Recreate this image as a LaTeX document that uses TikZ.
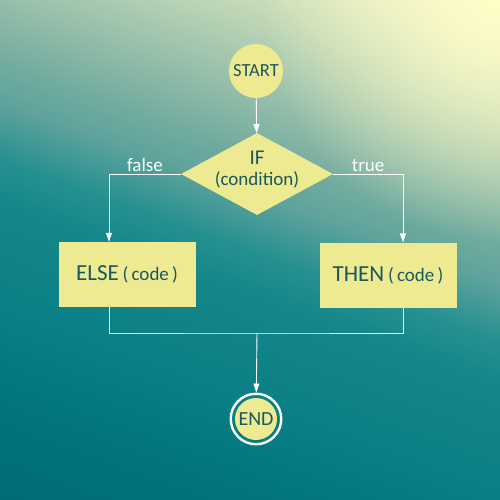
\documentclass[tikz,border=0pt]{standalone}
\usepackage{fontspec}
\setmainfont{Carlito}
\usetikzlibrary{arrows.meta,shapes.geometric,fadings,calc}
\definecolor{fillY}{RGB}{237,234,145}
\definecolor{txt}{RGB}{26,88,95}
\definecolor{glow}{RGB}{255,253,200}
\definecolor{bgA}{RGB}{0,106,116}
\definecolor{bgB}{RGB}{0,115,124}
\definecolor{bgC}{RGB}{10,127,133}
\definecolor{bgD}{RGB}{20,135,138}
\definecolor{bgE}{RGB}{38,144,144}
\definecolor{bgF}{RGB}{95,163,156}
\definecolor{bgG}{RGB}{112,171,159}
\definecolor{bgH}{RGB}{150,190,170}
\definecolor{bgI}{RGB}{200,220,185}
\definecolor{bgJ}{RGB}{245,245,200}
\definecolor{bgK}{RGB}{250,248,202}
\pgfdeclareverticalshading{bgsh}{100bp}{%
  color(0bp)=(bgA); color(25bp)=(bgA); color(32.5bp)=(bgB); color(39.5bp)=(bgC);
  color(47bp)=(bgD); color(50bp)=(bgE); color(54bp)=(bgF); color(56.5bp)=(bgG);
  color(61bp)=(bgH); color(67.5bp)=(bgI); color(73.5bp)=(bgJ); color(75bp)=(bgK);
  color(100bp)=(bgK)}
\tikzfading[name=glowfade, inner color=transparent!0, outer color=transparent!100]
\begin{document}
\begin{tikzpicture}[x=1pt,y=-1pt,
  conn/.style={draw=white, line width=0.9pt},
  arr/.style={conn,-{Triangle[width=6pt,length=9pt]}},
  term/.style={circle, fill=fillY, text=txt, minimum size=54pt, inner sep=0pt, font=\fontsize{18.5}{20}\selectfont},
  box/.style={rectangle, fill=fillY, text=txt, minimum width=137pt, minimum height=65pt, inner sep=0pt, font=\fontsize{23}{25}\selectfont},
  condshape/.style={diamond, fill=fillY, minimum width=152pt, minimum height=82pt, inner sep=0pt},
  lbl/.style={text=white, font=\fontsize{19}{20}\selectfont, inner sep=1.5pt},
  iftxt/.style={text=txt, inner sep=0pt}
]
\useasboundingbox (0,0) rectangle (500,500);
\begin{scope}
  \clip (0,0) rectangle (500,500);
  \begin{scope}[transform canvas={rotate around={-20:(250,250)}}]
    \shade[shading=bgsh] (-300,-90) rectangle (800,590);
  \end{scope}
  \fill[glow, path fading=glowfade] (500,0) circle (240);
\end{scope}

\node[term] (start) at (256,71) {START};
\node[condshape] (if) at (257,174) {};
\node[iftxt, font=\fontsize{21}{22}\selectfont] (iftext) at (257,158) {IF};
\node[iftxt, font=\fontsize{19}{20}\selectfont] (condtext) at (257,180) {(condition)};
\node[box] (else) at (127,274.5) {ELSE\,{\fontsize{19}{20}\selectfont(\,code\,)}};
\node[box] (then) at (388,275) {THEN\,{\fontsize{19}{20}\selectfont(\,code\,)}};
\node[term, minimum size=42pt, font=\fontsize{20}{22}\selectfont] (end) at (256,419) {END};
\node[circle, draw=white, line width=2.4pt, minimum size=50.5pt, inner sep=0pt] (endring) at (end) {};

\coordinate (lx) at (109,0);
\coordinate (rx) at (403,0);
\coordinate (j) at (257,333);

\draw[arr] (start) -- (if);
\draw[arr] (if.west) -| (lx |- else.north) node[lbl, pos=0.25, above] {false};
\draw[arr] (if.east) -| (rx |- then.north) node[lbl, pos=0.25, above] {true};
\draw[conn] (lx |- else.south) |- (j) -| (rx |- then.south);
\draw[arr] (j) -- (endring);
\end{tikzpicture}
\end{document}
